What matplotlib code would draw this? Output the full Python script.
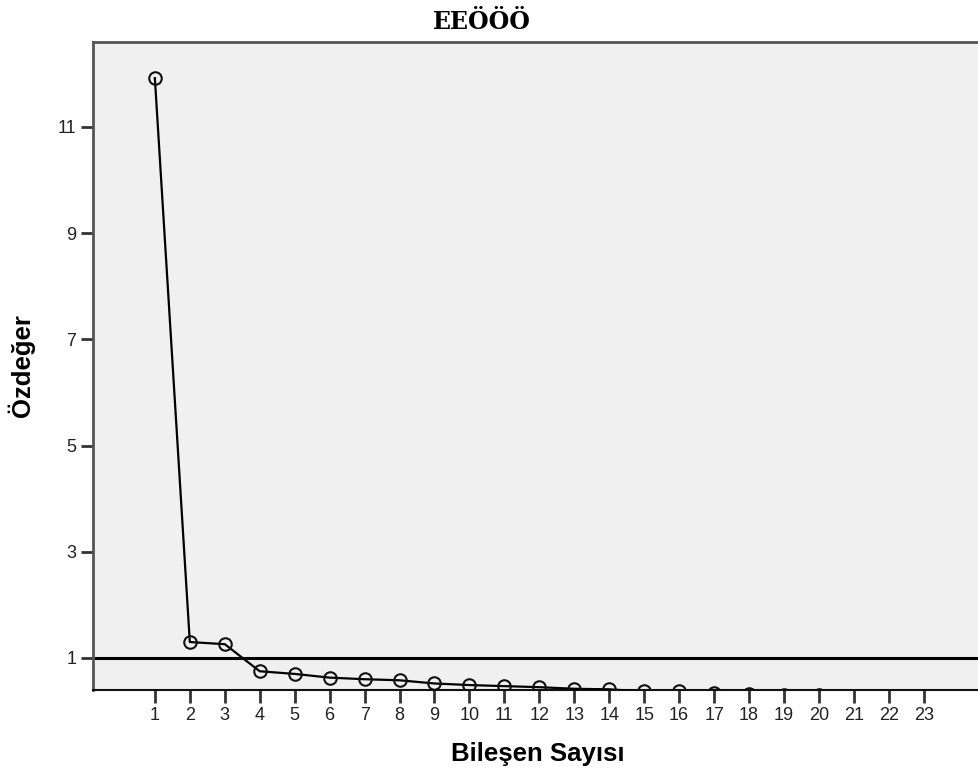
import matplotlib
matplotlib.use("Agg")
import matplotlib.pyplot as plt

components = list(range(1, 24))
eigenvalues = [11.92, 1.30, 1.26, 0.75, 0.70, 0.63, 0.60, 0.58, 0.52, 0.49, 0.47,
               0.45, 0.42, 0.41, 0.37, 0.37, 0.34, 0.32, 0.31, 0.30, 0.22, 0.19, 0.15]
y_ticks = [1, 3, 5, 7, 9, 11]
title = "EEÖÖÖ"
xlabel = "Bileşen Sayısı"
ylabel = "Özdeğer"
ref_line = 1

plt.rcParams['font.family'] = ['Liberation Sans', 'DejaVu Sans']

W, H = 979, 772
fig = plt.figure(figsize=(W/100, H/100), dpi=100)
ax = fig.add_axes([93/W, (H-690)/H, 1 - 93/W, (690-42)/H])
ax.set_facecolor('#F0F0F0')

ax.plot(components, eigenvalues, color='black', lw=1.6, marker='o', ms=9,
        mfc='none', mec='#111111', mew=1.5, zorder=3)
ax.axhline(ref_line, color='black', lw=2.2, zorder=2)

ax.set_xlim(-0.77, 24.58)
ax.set_ylim(0.397, 12.6)
ax.set_xticks(components)
ax.set_yticks(y_ticks)
ax.tick_params(axis='both', direction='out', length=9, width=2, color='#333333',
               labelsize=13, labelcolor='#222222', pad=3)

for s in ['left', 'top']:
    ax.spines[s].set_color('#555555')
    ax.spines[s].set_linewidth(2)
ax.spines['bottom'].set_color('#111111')
ax.spines['bottom'].set_linewidth(1.5)
ax.spines['right'].set_visible(False)

fig.text(538/W, 1 - 754/H, xlabel, ha='center', va='center',
         fontsize=18.5, fontweight='bold')
fig.text(21/W, 1 - 366/H, ylabel, ha='center', va='center', rotation=90,
         fontsize=18.5, fontweight='bold')
fig.text(482/W, 1 - 22/H, title, ha='center', va='center',
         fontsize=17, fontweight='bold', family=['DejaVu Serif'])

fig.savefig('out.png', dpi=100)
